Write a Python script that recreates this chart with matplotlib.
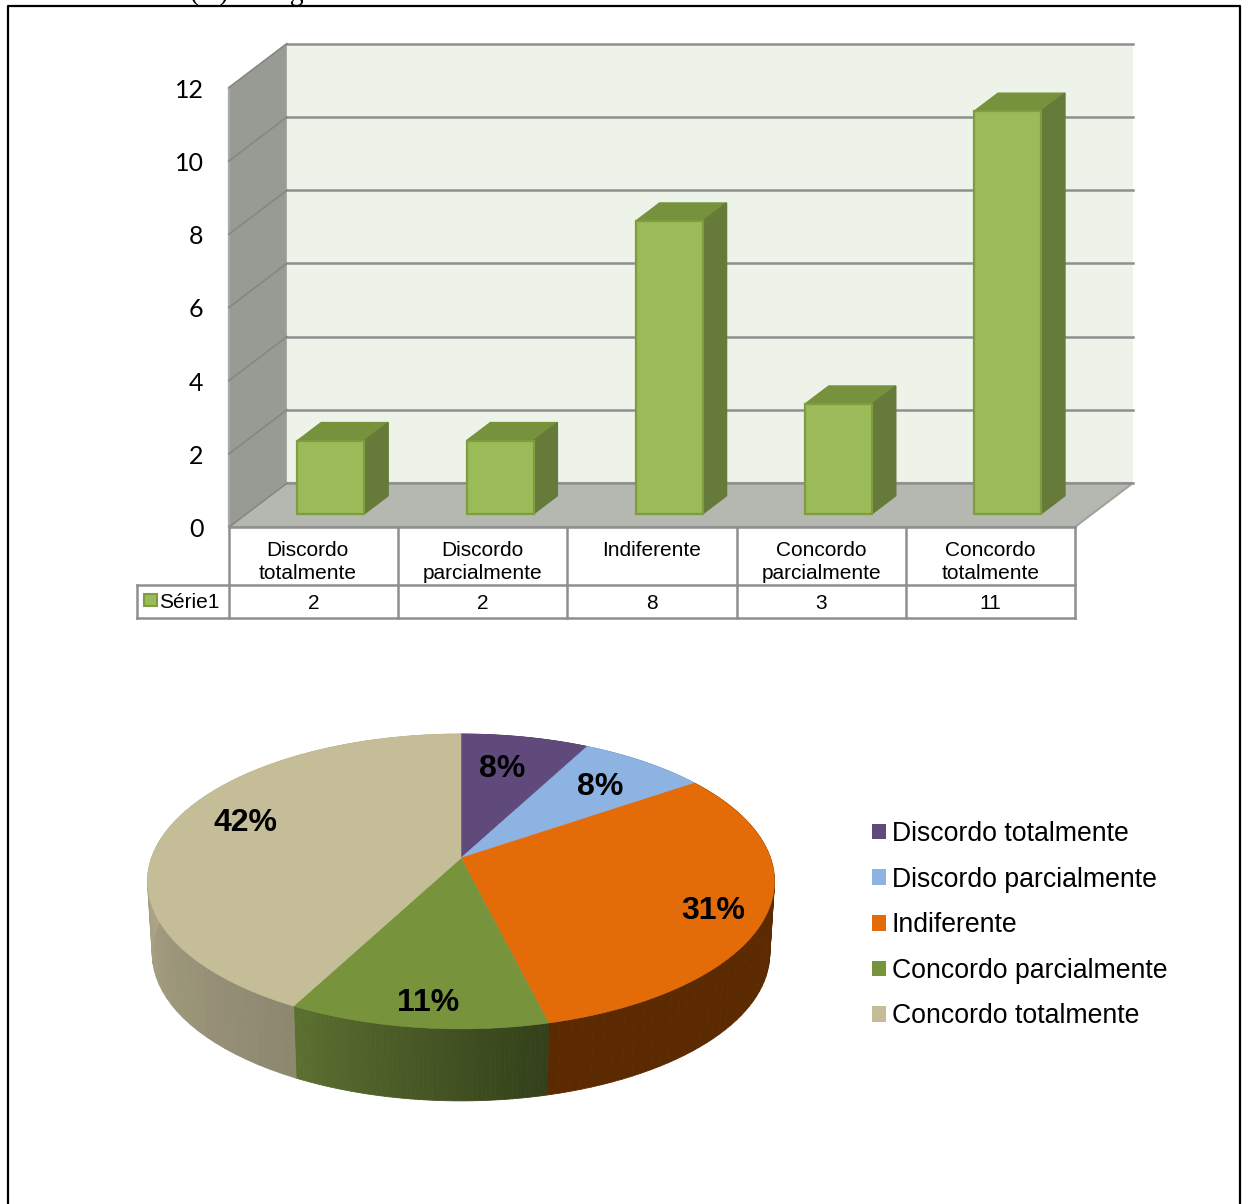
import numpy as np
import matplotlib
matplotlib.use('Agg')
import matplotlib.pyplot as plt
from matplotlib.colors import to_rgb
from matplotlib.patches import Patch, Polygon

categories = ['Discordo totalmente', 'Discordo parcialmente', 'Indiferente',
              'Concordo parcialmente', 'Concordo totalmente']
cat_lines = ['Discordo\ntotalmente', 'Discordo\nparcialmente', 'Indiferente',
             'Concordo\nparcialmente', 'Concordo\ntotalmente']
values = [2, 2, 8, 3, 11]
pct_labels = ['8%', '8%', '31%', '11%', '42%']
y_ticks = [0, 2, 4, 6, 8, 10, 12]
series_name = 'Série1'

pie_colors = ['#604a7b', '#8db3e2', '#e36c09', '#77933c', '#c4bd97']
side_from = ['#4a3960', '#6d8bb0', '#5c2a00', '#5b7030', '#b5ae8e']
side_to = ['#4a3960', '#6d8bb0', '#5c2a00', '#33401a', '#8e8870']

W, H = 1248, 1204
fig = plt.figure(figsize=(W / 100, H / 100), dpi=100)


def fig_text(px, py, s, **kw):
    return fig.text(px / W, 1 - py / H, s, **kw)


# page frame and the cut off line of text above it
fig.add_artist(plt.Line2D([8 / W, 8 / W, 1240 / W, 1240 / W], [0, 1 - 6 / H, 1 - 6 / H, 0],
                          color='black', lw=1.6))
fig_text(190, 0, '(X)     Alguma', family='Liberation Serif', fontsize=20, va='baseline')

# ----- 3D bar chart ----- #
ax = fig.add_axes([0, 0, 1, 1])
ax.set_xlim(-313.5 / 169.2, (W - 313.5) / 169.2)
ax.set_ylim((527 - H) / 36.6, 527 / 36.6)
ax.axis('off')
ax.patch.set_alpha(0)

DX, DY = 58 / 169.2, 44 / 36.6
x0, x1 = -0.5, len(values) - 0.5
top = y_ticks[-1]
grid_c = '#8e908e'

ax.add_patch(Polygon([(x0, 0), (x0 + DX, DY), (x0 + DX, top + DY), (x0, top)], fc='#989a94', ec='#a8aaa6', lw=1.5))
ax.add_patch(Polygon([(x0 + DX, DY), (x1 + DX, DY), (x1 + DX, top + DY), (x0 + DX, top + DY)], fc='#eef3e9', ec='none'))
ax.add_patch(Polygon([(x0, 0), (x0 + DX, DY), (x1 + DX, DY), (x1, 0)], fc='#b5b7b1', ec='#a0a29e', lw=1.5))
for t in y_ticks:
    ax.plot([x0 + DX, x1 + DX], [t + DY, t + DY], color=grid_c, lw=1.8, zorder=2)
    ax.plot([x0, x0 + DX], [t, t + DY], color='#858783', lw=1.2, zorder=2)
    ax.text(x0 - 0.15, t - 0.07, str(t), ha='right', va='center', family='Lato', fontsize=18)

bw = 0.396
fx, fy = 0.3 * DX, 0.3 * DY
bx, by = 0.41 * DX, 0.41 * DY
for i, v in enumerate(values):
    l, r = i + fx - bw / 2, i + fx + bw / 2
    b, t = fy, fy + v
    ax.add_patch(Polygon([(l, t), (r, t), (r + bx, t + by), (l + bx, t + by)], fc='#76923c', ec='#76923c', lw=1, zorder=3))
    ax.add_patch(Polygon([(r, b), (r + bx, b + by), (r + bx, t + by), (r, t)], fc='#667a39', ec='#667a39', lw=1, zorder=3))
    ax.add_patch(Polygon([(l, b), (r, b), (r, t), (l, t)], fc='#9bbb59', ec='#7f9c3f', lw=1.6, zorder=4))

# data table under the bars
t_c = '#8f8f8f'
row1, row2 = -58 / 36.6, -91 / 36.6
leg_x = x0 - 92 / 169.2
ax.plot([x0, x1], [0, 0], color=t_c, lw=1.8)
ax.plot([leg_x, x1], [row1, row1], color=t_c, lw=1.8)
ax.plot([leg_x, x1], [row2, row2], color=t_c, lw=1.8)
ax.plot([leg_x, leg_x], [row1, row2], color=t_c, lw=1.8)
for i in range(len(values) + 1):
    ax.plot([x0 + i, x0 + i], [0, row2], color=t_c, lw=1.8)
for i, (c, v) in enumerate(zip(cat_lines, values)):
    xc = i - 0.035 if i == 0 else i
    ax.text(xc, -13.5 / 36.6, c, ha='center', va='top', family='Liberation Sans', fontsize=15, linespacing=1.3)
    ax.text(i, (row1 + row2) / 2 - 0.05, str(v), ha='center', va='center', family='Liberation Sans', fontsize=15)
ax.add_patch(Polygon([(leg_x + 7 / 169.2, row1 + -9 / 36.6), (leg_x + 20 / 169.2, row1 + -9 / 36.6),
                      (leg_x + 20 / 169.2, row1 + -21 / 36.6), (leg_x + 7 / 169.2, row1 + -21 / 36.6)],
                     fc='#9bbb59', ec='#7f9c3f', lw=1.5))
ax.text(leg_x + 22 / 169.2, (row1 + row2) / 2 - 0.02, series_name, ha='left', va='center', family='Liberation Sans', fontsize=15)

# ----- Perspective pie ----- #
ax2 = fig.add_axes([0, 0, 1, 1])
ax2.set_xlim(-461 / 309.5, (W - 461) / 309.5)
ax2.set_ylim((858 - H) / 143.7, 858 / 143.7)
ax2.axis('off')
ax2.patch.set_alpha(0)

K = 0.159
DROP = 72 / 143.7
SHRINK = 0.985


def rim(frac):
    a = 2 * np.pi * np.asarray(frac)
    u, v = np.sin(a), np.cos(a)
    d = 1 + K * v
    return u / d, v / d


fracs = np.cumsum([0] + values) / sum(values)
# side wall first, then the top of the pie over it
for i in range(len(values)):
    steps = np.linspace(fracs[i], fracs[i + 1], 60)
    xs, ys = rim(steps)
    c0, c1 = np.array(to_rgb(side_from[i])), np.array(to_rgb(side_to[i]))
    for j in range(len(steps) - 1):
        # gradient runs from the left end of the visible wall to the right end
        w = j / (len(steps) - 2)
        col = c1 + (c0 - c1) * w if i < 4 else c1 + (c0 - c1) * min(1.0, w / 0.55)
        if i == 3:
            col = c0 * w + c1 * (1 - w)
        ax2.add_patch(Polygon([(xs[j], ys[j]), (xs[j + 1], ys[j + 1]),
                               (xs[j + 1] * SHRINK, ys[j + 1] - DROP), (xs[j] * SHRINK, ys[j] - DROP)],
                              fc=col, ec=col, lw=0.6, zorder=1))
for i in range(len(values)):
    xs, ys = rim(np.linspace(fracs[i], fracs[i + 1], 120))
    pts = np.column_stack([np.r_[0, xs], np.r_[0, ys]])
    ax2.add_patch(Polygon(pts, fc=pie_colors[i], ec=pie_colors[i], lw=0.4, zorder=2))

label_pos = [(502, 769), (600, 787), (713, 911), (428, 1003), (245, 823)]
for (px, py), s in zip(label_pos, pct_labels):
    fig_text(px, py, s, ha='center', va='center', family='Liberation Sans', fontweight='bold', fontsize=23, zorder=5)

handles = [Patch(fc=c, ec='none', label=n) for c, n in zip(pie_colors, categories)]
ax2.legend(handles=handles, frameon=False, loc='upper left', bbox_to_anchor=(872 / W, 1 - 821 / H),
           bbox_transform=fig.transFigure, prop={'family': 'Liberation Sans', 'size': 19.2},
           handlelength=0.52, handleheight=0.52, handletextpad=0.23, labelspacing=0.735, borderpad=0, borderaxespad=0)

fig.savefig('out.png', dpi=100)
